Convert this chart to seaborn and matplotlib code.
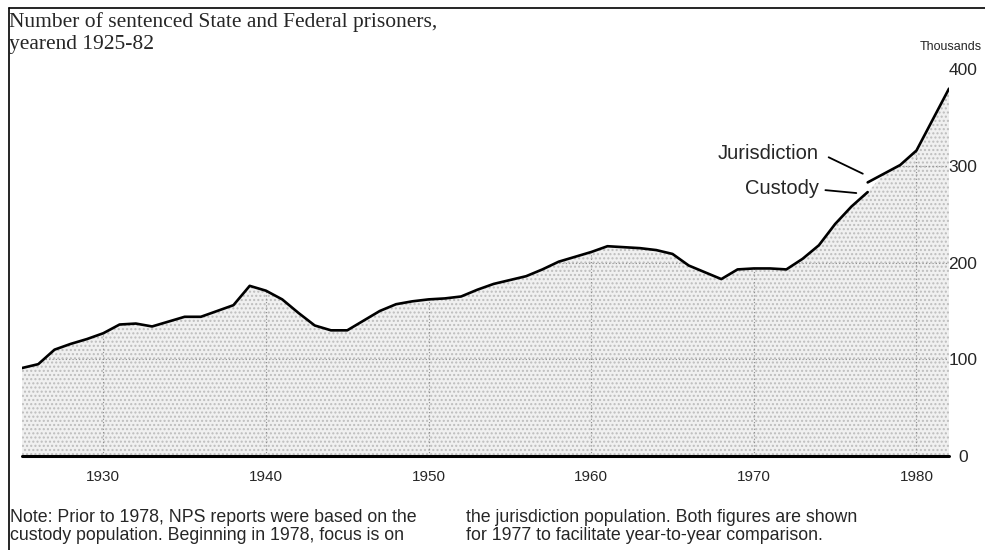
import numpy as np
import pandas as pd
import matplotlib
matplotlib.use("Agg")
import matplotlib.pyplot as plt
from matplotlib.lines import Line2D
import seaborn as sns

# Valores (milhares de presos, fim de ano)
anos_custodia = list(range(1925, 1978))
presos_custodia = [91, 95, 110, 116, 121, 127, 136, 137, 134, 139,
                   144, 144, 150, 156, 176, 171, 162, 148, 135, 130,
                   130, 140, 150, 157, 160, 162, 163, 165, 172, 178,
                   182, 186, 193, 201, 206, 211, 217, 216, 215, 213,
                   209, 197, 190, 183, 193, 194, 194, 193, 204, 218,
                   240, 258, 273]
anos_jurisdicao = [1977, 1978, 1979, 1980, 1981, 1982]
presos_jurisdicao = [283, 292, 301, 316, 348, 380]

anos_ticks = [1930, 1940, 1950, 1960, 1970, 1980]
valores_ticks = [0, 100, 200, 300, 400]

df_cust = pd.DataFrame({"ano": anos_custodia, "presos": presos_custodia})
df_jur = pd.DataFrame({"ano": anos_jurisdicao, "presos": presos_jurisdicao})
df_area = pd.concat([df_cust, df_jur.iloc[1:]], ignore_index=True)

sns.set_theme(style="white")
plt.rcParams["font.family"] = ["Liberation Sans", "DejaVu Sans"]

fig = plt.figure(figsize=(9.85, 5.5), dpi=100)
ax = fig.add_axes([22 / 985, 94 / 550, 927 / 985, 386.7 / 550])

# área pontilhada
area = ax.fill_between(df_area["ano"], df_area["presos"], 0,
                       facecolor="#f0f0f0", edgecolor="#bdbdbd",
                       hatch="....", linewidth=0, zorder=1)

# linhas (custódia e jurisdição)
sns.lineplot(data=df_cust, x="ano", y="presos", ax=ax, color="black",
             linewidth=1.9, zorder=4)
sns.lineplot(data=df_jur, x="ano", y="presos", ax=ax, color="black",
             linewidth=1.9, zorder=4)

ax.set_xlim(1925, 1982)
ax.set_ylim(0, 400)
ax.set_xlabel("")
ax.set_ylabel("")
for s in ax.spines.values():
    s.set_visible(False)
ax.axhline(0, color="black", linewidth=2.2, zorder=5, clip_on=False)

ax.set_xticks(anos_ticks)
ax.set_xticklabels([str(a) for a in anos_ticks], fontsize=11)
ax.set_yticks(valores_ticks)
ax.yaxis.tick_right()
ax.set_yticklabels([str(v) for v in valores_ticks], fontsize=12.5, ha="center")
ax.tick_params(axis="x", length=0, pad=10)
ax.tick_params(axis="y", length=0, pad=10)

# grade pontilhada somente dentro da área
ax.grid(True, color="#8c8c8c", linestyle=(0, (1, 2)), linewidth=0.8)
ax.set_axisbelow(False)
clip = area.get_paths()[0]
for gl in ax.get_xgridlines() + ax.get_ygridlines():
    gl.set_clip_path(clip, ax.transData)
    gl.set_zorder(2)

# rótulos das séries
ax.text(1974.0, 313, "Jurisdiction", ha="right", va="center", fontsize=14.5)
ax.plot([1974.6, 1976.7], [309, 292], color="black", linewidth=1.3)
ax.text(1974.0, 277, "Custody", ha="right", va="center", fontsize=14.5)
ax.plot([1974.4, 1976.3], [275, 272], color="black", linewidth=1.3)

# título, unidade e nota
fig.text(9 / 985, 1 - 22 / 550, "Number of sentenced State and Federal prisoners,",
         family="Liberation Serif", fontsize=15.5, va="center")
fig.text(9 / 985, 1 - 45 / 550, "yearend 1925-82",
         family="Liberation Serif", fontsize=15.5, va="center")
fig.text(982 / 985, 1 - 47 / 550, "Thousands", ha="right", va="center", fontsize=9)

nota = 12.8
fig.text(10 / 985, 1 - 518 / 550,
         "Note: Prior to 1978, NPS reports were based on the", fontsize=nota, va="center")
fig.text(10 / 985, 1 - 535 / 550,
         "custody population. Beginning in 1978, focus is on", fontsize=nota, va="center")
fig.text(466 / 985, 1 - 518 / 550,
         "the jurisdiction population. Both figures are shown", fontsize=nota, va="center")
fig.text(466 / 985, 1 - 535 / 550,
         "for 1977 to facilitate year-to-year comparison.", fontsize=nota, va="center")

# moldura superior e esquerda
fig.add_artist(Line2D([9 / 985, 1], [1 - 8 / 550, 1 - 8 / 550], color="black", linewidth=1.2))
fig.add_artist(Line2D([9 / 985, 9 / 985], [0, 1 - 8 / 550], color="black", linewidth=1.2))

fig.savefig("out.png", dpi=100)
